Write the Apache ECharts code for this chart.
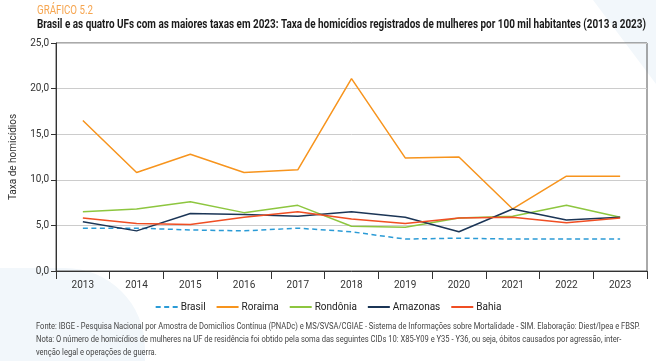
<!DOCTYPE html>
<html><head><meta charset="utf-8">
<script src="https://cdn.jsdelivr.net/npm/echarts@6/dist/echarts.min.js"></script>
<style>html,body{margin:0;padding:0;background:#fff}#c{width:656px;height:361px}</style>
</head><body><div id="c"></div>
<script>
const years = ['2013','2014','2015','2016','2017','2018','2019','2020','2021','2022','2023'];
const brasil = [4.7, 4.7, 4.5, 4.4, 4.7, 4.3, 3.5, 3.6, 3.5, 3.5, 3.5];
const roraima = [16.5, 10.8, 12.8, 10.8, 11.1, 21.1, 12.4, 12.5, 6.8, 10.4, 10.4];
const rondonia = [6.5, 6.8, 7.6, 6.4, 7.2, 4.9, 4.8, 5.8, 6.0, 7.2, 5.9];
const amazonas = [5.4, 4.4, 6.3, 6.2, 6.0, 6.5, 5.9, 4.3, 6.8, 5.6, 5.9];
const bahia = [5.8, 5.2, 5.1, 5.9, 6.5, 5.7, 5.2, 5.8, 5.9, 5.3, 5.8];
const seriesNames = ['Brasil','Roraima','Rondônia','Amazonas','Bahia'];
const colors = ['#2b9bd6','#f7941d','#8dc63f','#1b3556','#f04e23'];
const kicker = 'GRÁFICO 5.2';
const titleText = 'Brasil e as quatro UFs com as maiores taxas em 2023: Taxa de homicídios registrados de mulheres por 100 mil habitantes (2013 a 2023)';
const notes = [
  'Fonte: IBGE - Pesquisa Nacional por Amostra de Domicílios Contínua (PNADc) e MS/SVSA/CGIAE - Sistema de Informações sobre Mortalidade - SIM. Elaboração: Diest/Ipea e FBSP.',
  'Nota: O número de homicídios de mulheres na UF de residência foi obtido pela soma das seguintes CIDs 10: X85-Y09 e Y35 - Y36, ou seja, óbitos causados por agressão, inter-',
  'venção legal e operações de guerra.'
];

const FONT = 'Roboto, sans-serif';
const cv = document.createElement('canvas').getContext('2d');
function fitScale(text, font, target) { cv.font = font; return target / cv.measureText(text).width; }

const titleFont = 'bold 12px ' + FONT;
const kickerFont = '12.5px ' + FONT;
const noteFont = '9px ' + FONT;
const tScale = fitScale(titleText, titleFont, 609);
const kScale = fitScale(kicker, kickerFont, 56);
const nScale = fitScale(notes[0], noteFont, 604);

const chart = echarts.init(document.getElementById('c'));
const mk = (name, data, i, dashed) => ({
  name, type: 'line', data, symbol: 'none', smooth: false,
  lineStyle: { color: colors[i], width: 1.5, type: dashed ? [5, 3.5] : 'solid' },
  itemStyle: { color: colors[i] }
});
chart.setOption({
  animation: false,
  textStyle: { fontFamily: FONT },
  graphic: [
    { type: 'polygon', z: -10, silent: true, shape: { points: [[593, 0], [656, 0], [656, 84]] }, style: { fill: '#f2f7fb' } },
    { type: 'rect', z: -10, silent: true, shape: { x: -100, y: 268, width: 245, height: 200, r: 80 }, style: { fill: '#f2f7fb' } },
    { type: 'text', x: 37, y: 4, scaleX: kScale, style: { text: kicker, fill: '#f6a54f', font: kickerFont } },
    { type: 'text', x: 37, y: 19, scaleX: tScale, style: { text: titleText, fill: '#1a1a1a', font: titleFont } },
    { type: 'text', x: 36, y: 322, scaleX: nScale, style: { text: notes[0], fill: '#444', font: noteFont } },
    { type: 'text', x: 36, y: 335, scaleX: nScale, style: { text: notes[1], fill: '#444', font: noteFont } },
    { type: 'text', x: 36, y: 348, scaleX: nScale, style: { text: notes[2], fill: '#444', font: noteFont } }
  ],
  legend: {
    top: 297, left: 'center', itemWidth: 22, itemHeight: 10, itemGap: 10,
    data: seriesNames,
    itemStyle: { opacity: 0 },
    textStyle: { fontFamily: FONT, fontSize: 10, color: '#222', padding: [0, 0, 0, -2] }
  },
  grid: { left: 54, right: 9, top: 43, bottom: 90, show: true, borderColor: '#555', borderWidth: 1 },
  xAxis: {
    type: 'category', data: years, boundaryGap: true,
    axisLine: { lineStyle: { color: '#333', width: 1 } },
    axisTick: { show: true, length: 8, lineStyle: { color: '#333' } },
    axisLabel: { color: '#333', fontSize: 10, margin: 9, fontFamily: FONT }
  },
  yAxis: {
    type: 'value', min: 0, max: 25, interval: 5,
    name: 'Taxa de homicídios', nameLocation: 'middle', nameGap: 38, nameRotate: 90,
    nameTextStyle: { color: '#333', fontSize: 10, fontFamily: FONT },
    axisLine: { show: true, lineStyle: { color: '#333' } },
    axisTick: { show: true, length: 5, lineStyle: { color: '#333' } },
    axisLabel: { color: '#333', fontSize: 10, margin: 7, fontFamily: FONT, formatter: v => v.toFixed(1).replace('.', ',') },
    splitLine: { lineStyle: { color: '#cccccc', width: 1 } }
  },
  series: [
    mk('Brasil', brasil, 0, true),
    mk('Roraima', roraima, 1),
    mk('Rondônia', rondonia, 2),
    mk('Amazonas', amazonas, 3),
    mk('Bahia', bahia, 4)
  ]
});
</script></body></html>
